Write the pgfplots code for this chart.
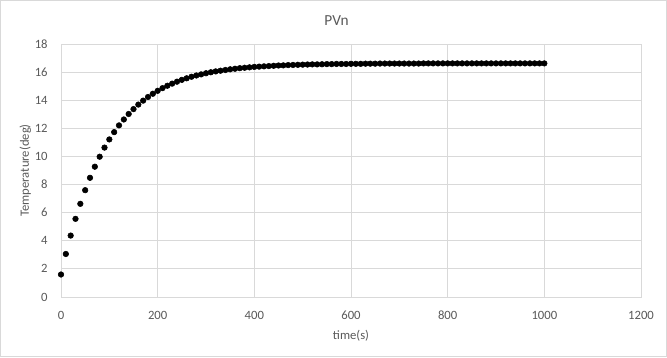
\documentclass[border=0pt]{standalone}
\usepackage{pgfplots}
\pgfplotsset{compat=1.18}
\usepackage{fontspec}
\setmainfont{Carlito}
\definecolor{gridc}{HTML}{D9D9D9}
\definecolor{txtc}{HTML}{595959}
\begin{document}
\begin{tikzpicture}
\useasboundingbox (0,0) rectangle (500.25pt,267.75pt);
\draw[gridc, line width=0.75pt] (0.375pt,0.375pt) rectangle (499.875pt,267.375pt);
\begin{axis}[
  at={(45.75pt,45pt)}, anchor=south west,
  scale only axis, width=435pt, height=189.75pt,
  xmin=0, xmax=1200, ymin=0, ymax=18,
  xtick={0,200,...,1200}, ytick={0,2,...,18},
  grid=major, major grid style={gridc, line width=0.6pt},
  axis line style={gridc, line width=0.6pt},
  tick style={draw=none},
  /pgf/number format/assume math mode=true,
  /pgf/number format/1000 sep={},
  ticklabel style={font=\fontsize{9.5pt}{11pt}\selectfont, text=txtc},
  xticklabel style={yshift=-7pt},
  yticklabel style={xshift=-6.5pt},
  title={PVn}, title style={font=\fontsize{11.5pt}{13pt}\selectfont, text=txtc, at={(0.475,1)}, yshift=4.5pt},
  xlabel={time(s)}, ylabel={Temperature(deg)},
  label style={font=\fontsize{9.5pt}{11pt}\selectfont, text=txtc},
  xlabel style={yshift=-1pt},
  ylabel style={yshift=-4pt},
]
\addplot[only marks, mark=*, mark size=2.1pt, black, mark options={fill=black}] coordinates {
(0,1.60) (10,3.06) (20,4.37) (30,5.56) (40,6.63) (50,7.60) (60,8.48) (70,9.27) (80,9.98) (90,10.63)
(100,11.21) (110,11.73) (120,12.21) (130,12.63) (140,13.02) (150,13.37) (160,13.69) (170,13.97) (180,14.23) (190,14.46)
(200,14.67) (210,14.86) (220,15.03) (230,15.18) (240,15.32) (250,15.45) (260,15.56) (270,15.67) (280,15.76) (290,15.84)
(300,15.92) (310,15.99) (320,16.05) (330,16.10) (340,16.15) (350,16.20) (360,16.24) (370,16.28) (380,16.31) (390,16.34)
(400,16.37) (410,16.39) (420,16.41) (430,16.43) (440,16.45) (450,16.47) (460,16.48) (470,16.50) (480,16.51) (490,16.52)
(500,16.53) (510,16.54) (520,16.55) (530,16.55) (540,16.56) (550,16.57) (560,16.57) (570,16.58) (580,16.58) (590,16.58)
(600,16.59) (610,16.59) (620,16.59) (630,16.60) (640,16.60) (650,16.60) (660,16.61) (670,16.61) (680,16.61) (690,16.61)
(700,16.61) (710,16.61) (720,16.61) (730,16.61) (740,16.61) (750,16.62) (760,16.62) (770,16.62) (780,16.62) (790,16.62)
(800,16.62) (810,16.62) (820,16.62) (830,16.62) (840,16.62) (850,16.62) (860,16.62) (870,16.62) (880,16.62) (890,16.62)
(900,16.62) (910,16.62) (920,16.62) (930,16.62) (940,16.62) (950,16.62) (960,16.62) (970,16.62) (980,16.62) (990,16.62)
(1000,16.62)
};
\end{axis}
\end{tikzpicture}
\end{document}
